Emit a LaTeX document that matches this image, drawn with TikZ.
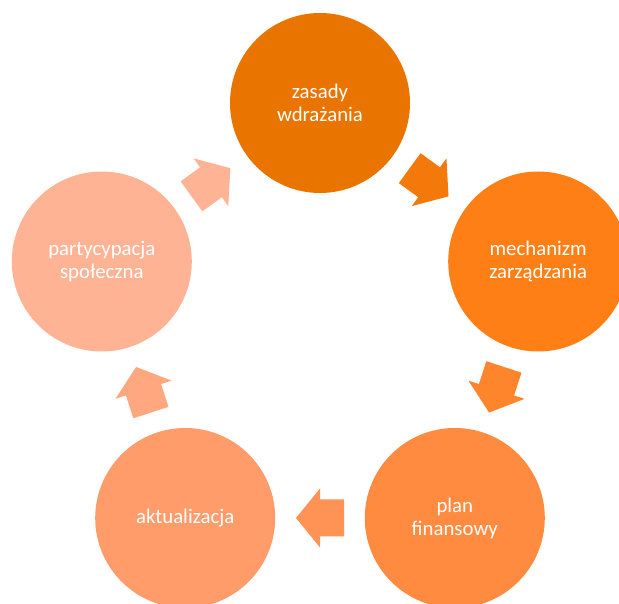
\documentclass[tikz,border=0pt]{standalone}
\usepackage{fontspec}
\setmainfont{Carlito}
\usepackage{tikz}
\usetikzlibrary{calc}
\usepackage{xcolor}

\definecolor{stepA}{HTML}{E97400}
\definecolor{stepB}{HTML}{FF7F17}
\definecolor{stepC}{HTML}{FF8B40}
\definecolor{stepD}{HTML}{FF9C6A}
\definecolor{stepE}{HTML}{FFB395}

\tikzset{
  stage/.style={circle, fill=#1, minimum size=180pt, inner sep=0pt,
    text=white, align=center, font=\fontsize{20.8}{23}\selectfont},
}

% block arrow at a coordinate, rotated, filled
\newcommand{\cyclearrow}[3]{%
  \fill[#3, shift={(#1)}, rotate=#2]
    (-24,-18.5) -- (0,-18.5) -- (0,-29.5) -- (24,0) -- (0,29.5)
    -- (0,18.5) -- (-24,18.5) -- cycle;}

\begin{document}
\begin{tikzpicture}[x=1pt, y=1pt]
  \useasboundingbox (0,0) rectangle (619,603);
  \clip (0,0) rectangle (619,603);
  \node[stage=stepA] (zasady) at (320,500) {zasady\\wdrażania};
  \node[stage=stepB] (mechanizm) at (538.2,341.5) {mechanizm\\zarządzania};
  \node[stage=stepC] (plan) at (454.8,85) {plan\\finansowy};
  \node[stage=stepD] (aktualizacja) at (185.2,85) {aktualizacja};
  \node[stage=stepE] (partycypacja) at (101.8,341.5) {partycypacja\\społeczna};

  \coordinate (aAB) at ($(zasady)!0.5!(mechanizm)$);
  \coordinate (aBC) at ($(mechanizm)!0.5!(plan)$);
  \coordinate (aCD) at ($(plan)!0.5!(aktualizacja)$);
  \coordinate (aDE) at ($(aktualizacja)!0.5!(partycypacja)$);
  \coordinate (aEA) at ($(partycypacja)!0.5!(zasady)$);

  \cyclearrow{aAB}{-36}{stepA!50!stepB}
  \cyclearrow{aBC}{-108}{stepB!50!stepC}
  \cyclearrow{aCD}{180}{stepC!50!stepD}
  \cyclearrow{aDE}{108}{stepD!50!stepE}
  \cyclearrow{aEA}{36}{stepE}
\end{tikzpicture}
\end{document}
